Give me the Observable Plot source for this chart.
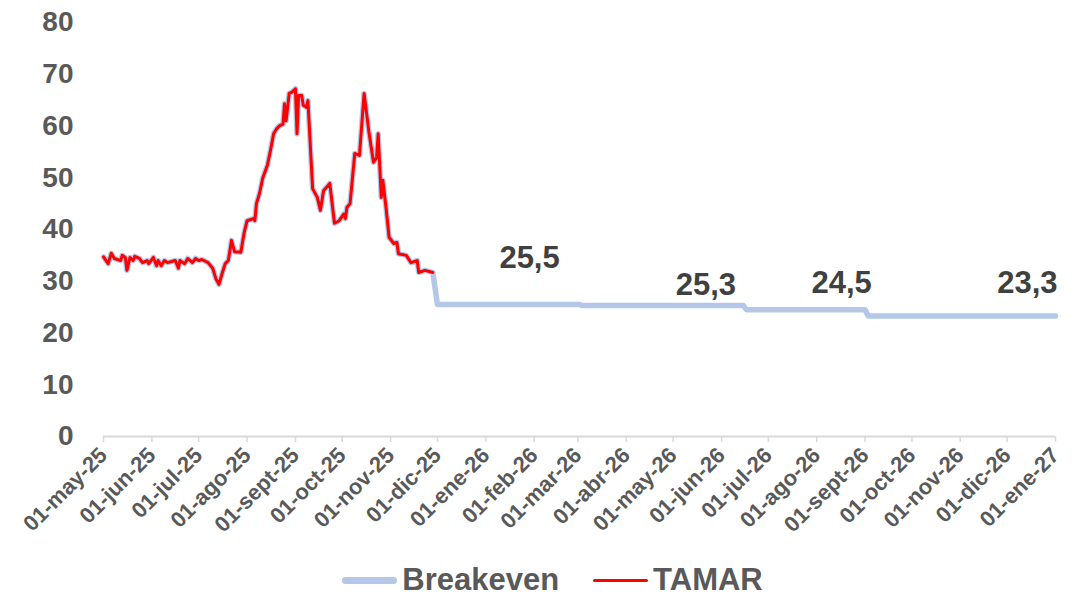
<!DOCTYPE html>
<html>
<head>
<meta charset="utf-8">
<script src="https://cdn.jsdelivr.net/npm/d3@7"></script>
<script src="https://cdn.jsdelivr.net/npm/@observablehq/plot@0.6"></script>
<style>
  body { margin: 0; background: #fff; font-family: "Liberation Sans", Arial, sans-serif; }
  #chart svg { display: block; }
  .legend { display: flex; justify-content: center; align-items: center; height: 36px; padding-left: 27px;
            font: bold 31px "Liberation Sans", Arial, sans-serif; color: #595959; }
  .legend .item { display: flex; align-items: center; margin: 0 17px; }
  .legend .sw { display: inline-block; width: 55px; margin-right: 5px; border-radius: 4px; }
</style>
</head>
<body>
<div id="chart"></div>
<div class="legend">
  <span class="item"><span class="sw" style="height:7px;background:#b4c7e7"></span>Breakeven</span>
  <span class="item"><span class="sw" style="height:3px;background:#ff0000"></span>TAMAR</span>
</div>
<script>
// ---- DATA ----
const tamarDates = [
  "2025-05-01","2025-05-04","2025-05-06","2025-05-08","2025-05-12","2025-05-13","2025-05-15","2025-05-16",
  "2025-05-18","2025-05-20","2025-05-21","2025-05-24","2025-05-26","2025-05-29","2025-05-30","2025-06-02",
  "2025-06-04","2025-06-05","2025-06-07","2025-06-09","2025-06-11","2025-06-16","2025-06-18","2025-06-19",
  "2025-06-22","2025-06-24","2025-06-27","2025-06-29","2025-07-01","2025-07-03","2025-07-07","2025-07-10",
  "2025-07-12","2025-07-14","2025-07-16","2025-07-18","2025-07-20","2025-07-22","2025-07-24","2025-07-28",
  "2025-07-30","2025-08-01","2025-08-05","2025-08-06","2025-08-07","2025-08-09","2025-08-11","2025-08-14",
  "2025-08-16","2025-08-18","2025-08-20","2025-08-22","2025-08-24","2025-08-25","2025-08-26","2025-08-28",
  "2025-08-30","2025-09-01","2025-09-02","2025-09-03","2025-09-05","2025-09-06","2025-09-08","2025-09-09",
  "2025-09-12","2025-09-15","2025-09-17","2025-09-19","2025-09-23","2025-09-26","2025-09-29","2025-10-02",
  "2025-10-03","2025-10-04","2025-10-06","2025-10-09","2025-10-12","2025-10-15","2025-10-18","2025-10-21",
  "2025-10-23","2025-10-24","2025-10-26","2025-10-27","2025-10-29","2025-10-31","2025-11-03","2025-11-05",
  "2025-11-06","2025-11-11","2025-11-14","2025-11-18","2025-11-19","2025-11-23","2025-11-28"
];
const tamarValues = [
  34.7,33.4,35.4,34.4,34.0,35.0,34.6,32.1,
  34.6,34.0,34.8,34.4,33.6,34.0,33.4,34.6,
  33.0,34.0,33.0,34.0,33.6,34.0,32.5,34.0,
  33.4,34.4,33.6,34.4,34.0,34.2,33.6,32.5,
  30.5,29.4,31.5,33.4,34.0,37.9,35.7,35.6,
  39.2,41.7,42.1,41.7,45.0,47.0,49.9,52.4,
  55.3,58.5,59.5,60.1,60.3,64.3,61.0,66.3,
  66.6,67.2,58.5,65.9,65.9,64.0,63.6,64.9,
  47.9,46.2,43.7,47.5,48.9,41.2,41.7,43.0,
  42.1,44.3,45.0,54.7,54.3,66.3,59.0,53.0,
  53.9,58.5,46.2,49.5,44.3,38.5,37.3,37.5,
  35.3,35.0,33.6,34.0,31.7,32.1,31.7
];
const breakevenDates = ["2025-12-01","2026-03-02","2026-03-04","2026-06-15","2026-06-17","2026-09-01","2026-09-03","2027-01-01"];
const breakevenValues = [25.5,25.5,25.3,25.3,24.5,24.5,23.3,23.3];

const labelTexts = ["25,5","25,3","24,5","23,3"];
const labelDates = ["2026-01-29","2026-05-22","2026-08-17","2026-12-14"];
const labelValues = [25.5,25.3,24.5,23.3];

const monthNames = ["ene","feb","mar","abr","may","jun","jul","ago","sept","oct","nov","dic"];
const yTicks = [0,10,20,30,40,50,60,70,80];

// ---- BUILD ----
const parse = d3.utcParse("%Y-%m-%d");
const tamar = tamarDates.map((d, i) => ({date: parse(d), value: tamarValues[i]}));
const breakeven = tamar.concat(breakevenDates.map((d, i) => ({date: parse(d), value: breakevenValues[i]})));
const labelOffsets = [-46, -20, -27, -33];
const labels = labelTexts.map((t, i) => ({text: t, date: parse(labelDates[i]), value: labelValues[i], dy: labelOffsets[i]}));

const xDomain = [parse("2025-05-01"), parse("2027-01-01")];
const xTicks = d3.utcMonth.range(xDomain[0], d3.utcDay.offset(xDomain[1], 1));
const fmt = d => "01-" + monthNames[d.getUTCMonth()] + "-" + String(d.getUTCFullYear()).slice(2);

const font = "Liberation Sans, Arial, sans-serif";
const chart = Plot.plot({
  width: 1078,
  height: 562,
  marginLeft: 103,
  marginRight: 23,
  marginTop: 22,
  marginBottom: 126,
  style: {fontFamily: font, background: "#fff"},
  x: {type: "utc", domain: xDomain, label: null},
  y: {domain: [0, 80], label: null},
  marks: [
    Plot.axisY({ticks: yTicks, tickSize: 0, tickPadding: 30, fontSize: 28, fontWeight: "bold", fill: "#595959", label: null}),
    Plot.axisX({ticks: xTicks, tickFormat: fmt, tickRotate: -45, tickSize: 6, tickPadding: 9, label: null,
                 stroke: "#d9d9d9", fill: "#595959", fontSize: 22, fontWeight: "bold", strokeWidth: 1.5}),
    Plot.ruleY([0], {stroke: "#d9d9d9", strokeWidth: 2}),
    Plot.line(breakeven, {x: "date", y: "value", stroke: "#b4c7e7", strokeWidth: 5.5, strokeLinejoin: "round", strokeLinecap: "round"}),
    Plot.line(tamar, {x: "date", y: "value", stroke: "#ff0000", strokeWidth: 3, strokeLinejoin: "round"}),
    ...labels.map(l => Plot.text([l], {x: "date", y: "value", text: "text", dy: l.dy,
                 fontSize: 31, fontWeight: "bold", fill: "#404040", fontFamily: font}))
  ]
});
document.getElementById("chart").appendChild(chart);
</script>
</body>
</html>
